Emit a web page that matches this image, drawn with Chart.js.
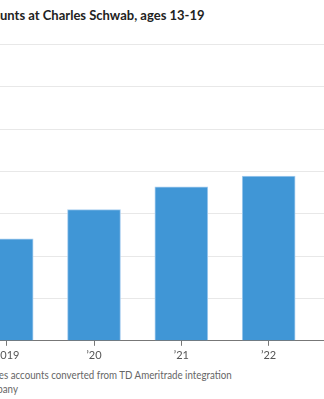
<!DOCTYPE html>
<html>
<head>
<meta charset="utf-8">
<script src="https://cdn.jsdelivr.net/npm/chart.js@4/dist/chart.umd.min.js"></script>
<style>
  body { margin: 0; background: #fff; }
  #wrap { position: relative; width: 324px; height: 399px; overflow: hidden; background: #fff; font-family: Lato, sans-serif; }
  #title { position: absolute; top: 7px; white-space: nowrap; font-size: 13px; font-weight: bold; color: #222; line-height: 16px; }
  .note { position: absolute; white-space: nowrap; font-size: 11.5px; color: #666; line-height: 14px; }
  #plot { position: absolute; left: -60px; top: 30px; width: 420px; height: 335px; }
</style>
</head>
<body>
<div id="wrap">
  <div id="title"><span class="pre">Teen acco</span>unts at Charles Schwab, ages 13-19</div>
  <div id="plot"><canvas id="chart"></canvas></div>
  <div class="note" id="note1" style="top:368px"><span class="pre">Note: 2023 figure includ</span><span class="vis">es accounts converted from TD Ameritrade integration</span></div>
  <div class="note" id="note2" style="top:381.5px"><span class="pre">Source: the comp</span><span class="vis">any</span></div>
</div>
<script>
'use strict';

// Data
var years = [2019, 2020, 2021, 2022];
var yearLabels = ['2019', '\u201920', '\u201921', '\u201922'];
var accounts = [24100, 31000, 36400, 38900];

// Footnote is set in a narrow face: squeeze so line one's visible part runs ~233px
var squeeze = 233 / document.querySelector('#note1 .vis').offsetWidth;

// Crop the hidden start of each text line so the visible part lines up
function placeText(id, visibleStart, sx) {
    var el = document.getElementById(id);
    var pre = el.querySelector('.pre').offsetWidth;
    el.style.left = (visibleStart - pre) + 'px';
    if (sx) {
        el.style.transformOrigin = pre + 'px 0';
        el.style.transform = 'scaleX(' + sx.toFixed(3) + ')';
    }
}
placeText('title', 0);
placeText('note1', -1, squeeze);
placeText('note2', 3, squeeze);

Chart.defaults.font.family = 'Lato, sans-serif';

var ctx = document.getElementById('chart').getContext('2d');
var chart = new Chart(ctx, {
    type: 'bar',
    data: {
        datasets: [{
            data: years.map(function (y, i) { return { x: y, y: accounts[i] }; }),
            backgroundColor: '#4096d6',
            borderColor: '#a6cdef',
            borderWidth: 1,
            barThickness: 53
        }]
    },
    options: {
        responsive: true,
        maintainAspectRatio: false,
        animation: false,
        layout: { padding: { top: 14.5, left: 23, right: 4, bottom: 0 } },
        plugins: { legend: { display: false }, tooltip: { enabled: false } },
        scales: {
            x: {
                type: 'linear',
                offset: false,
                min: 2018.5,
                max: 2023,
                afterBuildTicks: function (scale) {
                    scale.ticks = years.map(function (y) { return { value: y }; });
                },
                ticks: {
                    autoSkip: false,
                    maxRotation: 0,
                    padding: 3,
                    color: '#555',
                    font: { size: 11 },
                    callback: function (value) {
                        return yearLabels[years.indexOf(value)];
                    }
                },
                grid: { offset: false, drawOnChartArea: false, drawTicks: true, tickLength: 5, color: '#777' },
                border: { color: '#777', width: 1 }
            },
            y: {
                min: 0,
                max: 70000,
                ticks: { display: false, stepSize: 10000 },
                grid: { color: '#e8e8e8', drawTicks: false },
                border: { display: false }
            }
        }
    }
});
</script>
</body>
</html>
